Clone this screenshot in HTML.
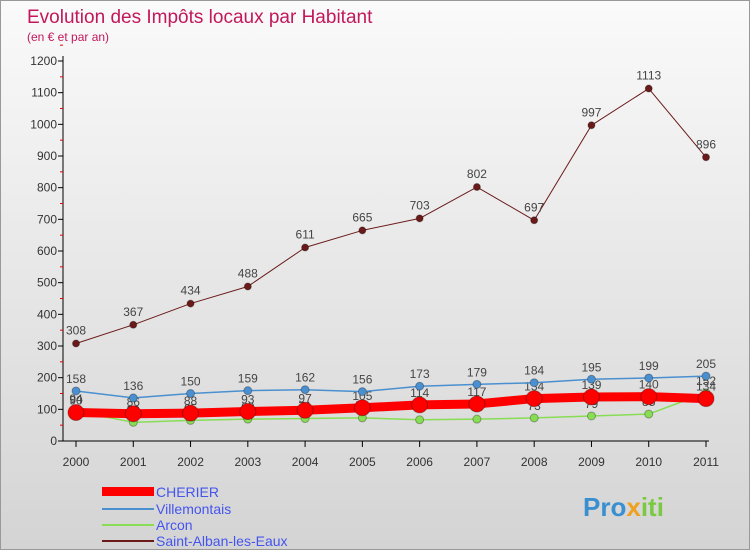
<!DOCTYPE html>
<html><head><meta charset="utf-8"><style>
body{margin:0;width:750px;height:550px;overflow:hidden;font-family:"Liberation Sans",sans-serif}
#wrap{position:relative;width:748px;height:548px;border:1px solid #999;background:linear-gradient(#fafafa,#d4d4d4)}
</style></head><body>
<div id="wrap">
<svg id="chart" width="748" height="548" xmlns="http://www.w3.org/2000/svg">
<text x="26" y="22" font-size="19" fill="#c2185b">Evolution des Impôts locaux par Habitant</text>
<text x="26" y="40" font-size="12" fill="#c2185b">(en € et par an)</text>
<g id="axes"></g><g id="series"></g>
<g font-size="14">
<rect x="101" y="486" width="52" height="9" fill="#f00"/>
<text x="155" y="496" fill="#4455ee">CHERIER</text>
<line x1="101" y1="508" x2="153" y2="508" stroke="#4a90d0" stroke-width="2"/>
<text x="155" y="513" fill="#4455ee">Villemontais</text>
<line x1="101" y1="524" x2="153" y2="524" stroke="#88dd55" stroke-width="2"/>
<text x="155" y="529" fill="#4455ee">Arcon</text>
<line x1="101" y1="540" x2="153" y2="540" stroke="#6b1a1a" stroke-width="2"/>
<text x="155" y="545" fill="#4455ee">Saint-Alban-les-Eaux</text>
</g>
<text x="582" y="515" font-size="26" font-weight="bold" fill="#3a8fd0">Pro<tspan fill="#f0a020">x</tspan><tspan fill="#7ac943">iti</tspan></text>
</svg>
</div>
<script>
const years=["2000","2001","2002","2003","2004","2005","2006","2007","2008","2009","2010","2011"];
const cherier=[90,86,88,93,97,105,114,117,134,139,140,134];
const villemontais=[158,136,150,159,162,156,173,179,184,195,199,205];
const arcon=[94,59,65,69,71,73,67,69,73,79,85,152];
const stAlban=[308,367,434,488,611,665,703,802,697,997,1113,896];
const yTicks=[0,100,200,300,400,500,600,700,800,900,1000,1100,1200];
const NS="http://www.w3.org/2000/svg";
const X=i=>75+i*(630/11), Y=v=>440-v*(380/1200);
function mk(t,a,p){const e=document.createElementNS(NS,t);for(const k in a)e.setAttribute(k,a[k]);p.appendChild(e);return e;}
const ax=document.getElementById('axes'), sr=document.getElementById('series');
const ya=mk('line',{x1:62,y1:55,x2:62,y2:440,stroke:'#000'},ax);

const xa=mk('line',{x1:62,y1:440,x2:708,y2:440,stroke:'#000'},ax);

yTicks.forEach(v=>{
  mk('line',{x1:57,y1:Y(v),x2:62,y2:Y(v),stroke:'#000'},ax);
  mk('line',{x1:59,y1:Y(v+50),x2:62,y2:Y(v+50),stroke:'#e00'},ax);
  const t=mk('text',{x:56,y:Y(v)+4,'text-anchor':'end','font-size':12,fill:'#333'},ax);t.textContent=v;
  
});
years.forEach((y,i)=>{
  mk('line',{x1:X(i),y1:440,x2:X(i),y2:446,stroke:'#000'},ax);
  const t=mk('text',{x:X(i),y:465,'text-anchor':'middle','font-size':12,fill:'#333'},ax);t.textContent=y;
  
});
function series(d,color,w,r,name,lab,dy){
  const g=mk('g',{},sr);
  
  const pl=mk('polyline',{points:d.map((v,i)=>X(i)+','+Y(v)).join(' '),fill:'none',stroke:color,'stroke-width':w,'stroke-linejoin':'round'},g);
  
  d.forEach((v,i)=>{
    const c=mk('circle',{cx:X(i),cy:Y(v),r:r,fill:color,stroke:'rgba(0,0,0,0.3)'},g);
    
    if(lab){const t=mk('text',{x:X(i),y:Y(v)+dy,'text-anchor':'middle','font-size':12,fill:'#444'},g);t.textContent=v;
    }
  });
}
series(arcon,'#88dd55',1.5,4,'arcon',true,-8);
series(cherier,'#f00',9,8,'cherier',true,-8);
series(villemontais,'#4a90d0',1.5,4,'villemontais',true,-8);
series(stAlban,'#6b1a1a',1,3.5,'saint-alban',true,-9);
</script>
</body></html>
